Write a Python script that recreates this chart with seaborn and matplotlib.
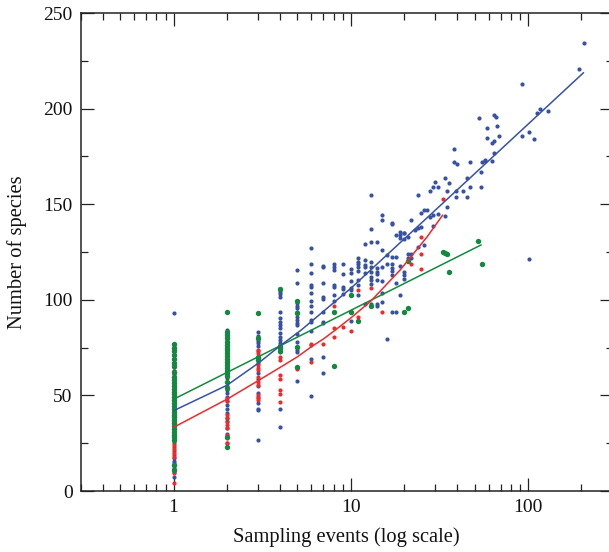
import numpy as np
import pandas as pd
import matplotlib
matplotlib.use("Agg")
import matplotlib.pyplot as plt
import matplotlib.ticker as mticker
import seaborn as sns

# ---------------- data ----------------
blue_cols = {
    1: [93, 77, 75.5, 73, 71, 69, 67, 65, 63, 61, 59, 57, 55, 53, 51, 49, 47, 45, 43, 41, 39, 37,
        35, 33, 31, 29, 27, 25, 23, 21, 19, 17, 15.5, 14.5, 12, 10, 7.5],
    2: [84, 83, 82, 80.5, 79, 77, 75, 73, 71, 69, 67, 65, 63, 61, 59, 57, 55, 53, 51, 49, 47, 45,
        43, 41, 38, 36.6, 33, 30, 25],
    3: [83.2, 81, 79.3, 78.3, 77.4, 75.9, 73.1, 67, 61.7, 58.4, 54.7, 51.2, 49.2, 46, 43, 42.4, 26.7],
    4: [105, 104, 103, 101.5, 93.8, 90.5, 88.6, 86.8, 85.2, 82.8, 80.7, 79, 77.6, 72.9, 43, 33.6],
    5: [115.6, 108.6, 98.5, 97, 95.5, 93.8, 91, 89.4, 88, 86.8, 82, 78, 73.7, 72.5, 64.2, 57.7],
    6: [126.9, 118.7, 113.8, 107.7, 106.9, 103.4, 99.5, 96.9, 93.8, 89.4, 88.5, 83.7, 76.4, 68.9, 49.7],
    7: [117.7, 117, 108.6, 101.6, 100.4, 93.8, 88.6, 87.7, 70.2, 61.6],
    8: [118.7, 117.3, 115.6, 107.7, 106.5, 102.5, 99.2],
    9: [118.7, 113.5, 106.5, 105.5, 103],
    10: [116, 114.2, 110, 106, 105, 89],
    11: [121.7, 119.9, 118.7, 117, 115.1, 110.4, 107.7, 102.5],
    12: [129.2, 120.8, 118.2, 117, 114, 98],
    13: [155, 136.9, 130, 119.9, 117.3, 114.5, 112, 110.4, 108.1, 98],
    14: [130, 116.5, 114.7, 113.5, 110.4, 97.8, 96.5],
    15: [144.3, 141.7, 126.1, 117, 110, 103.7, 99],
    16: [123.4, 118.7, 79.7],
    17: [140, 139.6, 122.2, 118.7, 116.8, 115.2, 113, 93.6],
    18: [133.9, 122.5, 108.9, 93.8],
    19: [135.6, 133.9, 132.2, 117.7, 102.5],
    20: [135.1, 134.8, 131.6, 114.7, 113, 110.9],
    21: [133, 123.8, 122],
    22: [141.7, 123.8, 122],
    23: [136.5],
    24: [154.8, 137.4, 127.8],
    25: [145.6, 137.9],
    26: [147, 128.7],
    27: [147],
    28: [156.9, 143.1],
    29: [158.8, 144.3, 138.8],
    30: [161.8],
    31: [158.8, 144.7],
    34: [163.9, 143.8],
    35: [156.9, 148.7],
    36: [160.9],
    38: [178.9, 171.9],
    39: [156.9, 153.8],
    40: [170.9],
    43: [156.9],
    45: [163.9, 153.8],
    47: [171.9, 158.8],
    53: [194.9],
    54: [166.8, 158.8],
    55: [171.9],
    57: [172.8, 173.1],
    59: [190, 184.8],
    63: [172.8, 181.8],
    64: [196.8, 183, 176.9],
    66: [195.8],
    67: [190.9],
    69: [185.8],
    93: [213, 185.8],
    102: [187.9, 121.3],
    108: [184.1],
    112: [197.9],
    117: [200],
    130: [198.9],
    194: [220.9],
    208: [234.1],
}

red_cols = {
    1: [65, 63, 61, 59, 40, 38, 36, 34, 32, 30, 28, 26, 24, 22, 20, 18, 9.4, 4.3],
    2: [48.6, 47, 40, 38, 36.2, 34.5, 32.8, 29.3, 27.7, 25],
    3: [73.7, 72.2, 65.9, 64.5, 63.3, 59.8, 57.2, 55.4, 50.2, 48.9, 47.6],
    4: [70.2, 68.5, 60.7, 58.6, 52.8, 50.6, 46.7],
    5: [64],
    6: [76.9, 67.6],
    7: [77],
    8: [96.8, 85, 80.7],
    9: [85.9],
    10: [83.8],
    11: [105.1, 91.2],
    13: [106],
    15: [93.8],
    22: [118.6],
    25: [133, 124, 116],
    33: [152.7],
}

green_cols = {
    1: [77, 75, 73, 71, 69, 67, 65.5, 62.5, 59.5, 58, 56.5, 55, 53.5, 52, 50.5, 49, 47.5, 46,
        44.5, 43, 41.5, 40, 38.5, 37, 35.5, 34, 32.5, 31, 29.5, 28, 26.7, 13.6, 11],
    2: [93.8, 83, 81.5, 80, 78, 76.5, 75, 73.5, 72, 70.5, 69, 67.5, 66, 64.5, 63, 61.5, 60,
        57, 54, 28, 23],
    3: [92.9, 79.9, 70.2, 69.4, 68.5],
    4: [105.6, 75.8, 74.6, 73.4],
    5: [99.5, 92.9, 75.5, 65],
    8: [93.8, 65.4],
    10: [102.5, 93.8],
    11: [88.9],
    13: [96.8],
    20: [93.8],
    21: [120.4, 95.7],
    33: [124.8],
    34: [124.3],
    35: [123.8],
    36: [114.7],
    52: [130.8],
    55: [118.7],
}

# fitted trend lines
blue_fit_x = [1, 2, 3, 4, 5.25, 10, 23, 55, 100, 206]
blue_fit_y = [42, 55.3, 66.8, 76, 84.2, 106, 137, 169.5, 191.8, 218.8]
red_fit_x = [1, 2, 3, 4, 5, 6, 7, 8, 9, 10, 13, 19, 27, 33]
red_fit_y = [33.3, 48, 57.7, 64.7, 70.2, 75.5, 79.5, 83.5, 87.2, 90.5, 99.4, 115.6, 133, 144.3]
green_fit_x = [1, 54.4]
green_fit_y = [48, 128.7]

x_ticks = [1, 10, 100]
x_ticklabels = ["1", "10", "100"]
y_ticks = [0, 50, 100, 150, 200, 250]

BLUE = "#3852a3"
RED = "#ee2a2a"
GREEN = "#12893e"


def to_df(cols):
    xs, ys = [], []
    for x, vals in cols.items():
        xs.extend([x] * len(vals))
        ys.extend(vals)
    return pd.DataFrame({"x": xs, "y": ys})


blue_df = to_df(blue_cols)
red_df = to_df(red_cols)
green_df = to_df(green_cols)

# ---------------- plot ----------------
sns.set_theme(style="ticks")
plt.rcParams["font.family"] = ["Liberation Serif", "DejaVu Serif"]

fig = plt.figure(figsize=(6.09, 5.52), dpi=100)
ax = fig.add_axes([81 / 609, 61 / 552, 531.5 / 609, 478 / 552])

sns.scatterplot(data=blue_df, x="x", y="y", color=BLUE, s=9, linewidth=0, ax=ax, zorder=2)
sns.scatterplot(data=red_df, x="x", y="y", color=RED, s=9, linewidth=0, ax=ax, zorder=3)
sns.scatterplot(data=green_df, x="x", y="y", color=GREEN, s=15, linewidth=0, ax=ax, zorder=4)

sns.lineplot(x=green_fit_x, y=green_fit_y, color=GREEN, lw=1.1, ax=ax, zorder=5)
sns.lineplot(x=blue_fit_x, y=blue_fit_y, color=BLUE, lw=1.1, ax=ax, zorder=6)
sns.lineplot(x=red_fit_x, y=red_fit_y, color=RED, lw=1.1, ax=ax, zorder=7)

ax.set_xscale("log")
ax.set_xlim(0.3, 300)
ax.set_ylim(0, 250)
ax.set_xticks(x_ticks)
ax.set_xticklabels(x_ticklabels)
ax.xaxis.set_minor_locator(mticker.LogLocator(base=10, subs=np.arange(2, 10)))
ax.xaxis.set_minor_formatter(mticker.NullFormatter())
ax.set_yticks(y_ticks)
ax.yaxis.set_minor_locator(mticker.MultipleLocator(25))

ax.tick_params(which="both", direction="in", top=True, right=True, color="#222222",
               width=0.9, labelsize=14, labelcolor="#111111")
ax.tick_params(which="major", length=9.4, pad=6)
ax.tick_params(which="minor", length=5)
for sp in ax.spines.values():
    sp.set_linewidth(1.1)
    sp.set_color("#222222")

ax.set_xlabel("Sampling events (log scale)", fontsize=14.8, color="#111111", labelpad=8)
ax.set_ylabel("Number of species", fontsize=14.8, color="#111111", labelpad=12)
ax.grid(False)

fig.savefig("out.png", dpi=100)
